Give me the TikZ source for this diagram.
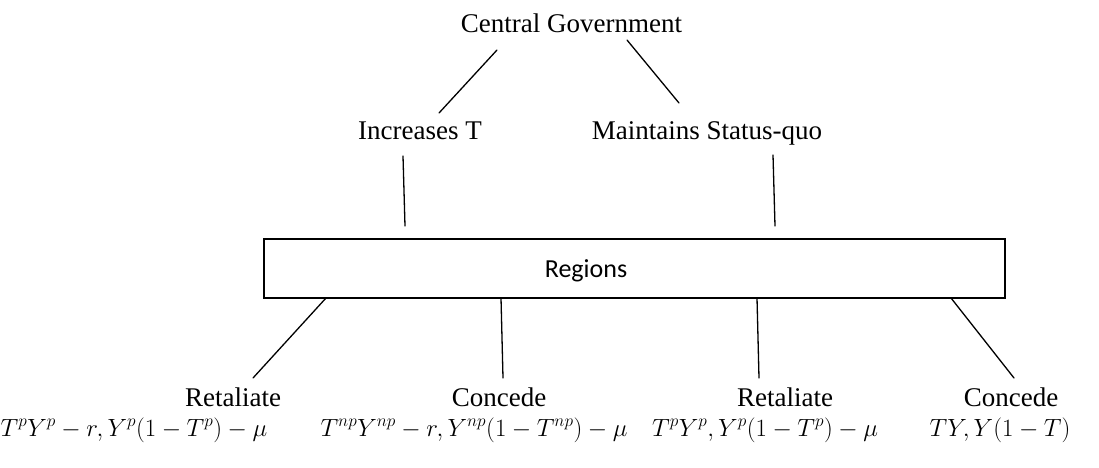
\documentclass[tikz,border=0pt]{standalone}
\usepackage{fontspec}
\setmainfont{Liberation Serif}
\newfontfamily\regfont{Carlito}
\begin{document}
\begin{tikzpicture}[x=1pt,y=-1pt,
  lbl/.style={anchor=base,inner sep=0pt,font=\fontsize{27}{30}\selectfont},
  frm/.style={anchor=base,inner sep=0pt,font=\fontsize{23.5}{26}\selectfont},
  conn/.style={line width=1.3pt,line cap=round},
  regbox/.style={draw,line width=1.1pt,minimum width=741pt,minimum height=59pt,inner sep=0pt}]
\useasboundingbox (0,0) rectangle (1099,467);
% nodes
\node[lbl] (cg) at (571.5,32) {Central Government};
\node[lbl] (inc) at (420,139) {Increases T};
\node[lbl] (mst) at (707,139) {Maintains Status-quo};
\node[regbox] (box) at (634.5,268.5) {};
\node[anchor=base,inner sep=0pt,font=\regfont\fontsize{26}{30}\selectfont] (reg) at (586,277) {Regions};
\node[lbl] (r1) at (233,406) {Retaliate};
\node[lbl] (c1) at (499,406) {Concede};
\node[lbl] (r2) at (785,406) {Retaliate};
\node[lbl] (c2) at (1011,406) {Concede};
\node[frm] (f1) at (134,436) {$T^pY^p-r,Y^p(1-T^p)-\mu$};
\node[frm] (f2) at (474,436) {$T^{np}Y^{np}-r,Y^{np}(1-T^{np})-\mu$};
\node[frm] (f3) at (765,436) {$T^pY^p,Y^p(1-T^p)-\mu$};
\node[frm] (f4) at (1000,436) {$TY,Y(1-T)$};
% connector end points
\coordinate (cgL) at (497,50);
\coordinate (incT) at (439,113);
\coordinate (cgR) at (627,40);
\coordinate (mstT) at (679,103);
\coordinate (incB) at (403,156);
\coordinate (boxA) at (405,226);
\coordinate (mstB) at (773,155);
\coordinate (boxB) at (775,226);
\coordinate (b1) at (326,298);
\coordinate (r1T) at (253,378);
\coordinate (b2) at (501,298);
\coordinate (c1T) at (503,378);
\coordinate (b3) at (757,298);
\coordinate (r2T) at (759,378);
\coordinate (b4) at (951,298);
\coordinate (c2T) at (1014,378);
% connectors
\draw[conn] (cgL) -- (incT);
\draw[conn] (cgR) -- (mstT);
\draw[conn] (incB) -- (boxA);
\draw[conn] (mstB) -- (boxB);
\draw[conn] (b1) -- (r1T);
\draw[conn] (b2) -- (c1T);
\draw[conn] (b3) -- (r2T);
\draw[conn] (b4) -- (c2T);
\end{tikzpicture}
\end{document}
